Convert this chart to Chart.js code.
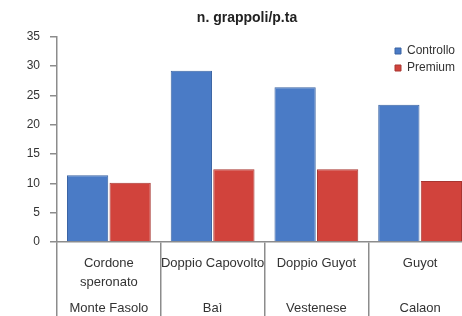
<!DOCTYPE html>
<html>
<head>
<meta charset="utf-8">
<script src="https://cdn.jsdelivr.net/npm/chart.js@4/dist/chart.umd.min.js"></script>
<style>
html, body { margin:0; padding:0; background:#fff; overflow:hidden; }
#wrapper { width:472px; height:316px; }
</style>
</head>
<body>
<div id="wrapper"><canvas id="grafico" width="472" height="316"></canvas></div>
<script>
"use strict";
// dati
const sistemi = [["Cordone", "speronato"], "Doppio Capovolto", "Doppio Guyot", "Guyot"];
const localita = ["Monte Fasolo", "Baì", "Vestenese", "Calaon"];
const controllo = [11.4, 29.2, 26.4, 23.4];
const premium = [10.1, 12.4, 12.4, 10.4];
const yMin = 0, yMax = 35, yStep = 5;

Chart.defaults.font.family = "'Liberation Sans', Arial, sans-serif";
Chart.defaults.color = "#333";

// sposta legenda e titolo come nell'originale
const posiziona = {
    id: "posiziona",
    afterLayout(chart) {
        let lg = chart.legend;
        let w = lg.width, h = lg.height;
        lg.left = 390; lg.right = lg.left + w;
        lg.top = 40; lg.bottom = lg.top + h;
        let tb = chart.titleBlock;
        tb.left += 11; tb.right += 11;
    }
};

let grigio = "#8c8c8c";
let chart = new Chart(document.getElementById("grafico"), {
    type: "bar",
    data: {
        labels: sistemi,
        datasets: [
            {
                label: "Controllo",
                data: controllo,
                backgroundColor: "#4a7bc6",
                borderColor: "#3b64a3",
                borderWidth: 1
            },
            {
                label: "Premium",
                data: premium,
                backgroundColor: "#d1433c",
                borderColor: "#a83631",
                borderWidth: 1
            }
        ]
    },
    options: {
        responsive: false,
        animation: false,
        devicePixelRatio: 1,
        layout: { padding: 0 },
        datasets: { bar: { categoryPercentage: 0.82, barPercentage: 0.97 } },
        plugins: {
            title: {
                display: true,
                text: "n. grappoli/p.ta",
                font: { size: 14, weight: "bold" },
                color: "#222",
                padding: { top: 10, bottom: 10 }
            },
            legend: {
                position: "chartArea",
                align: "start",
                labels: {
                    boxWidth: 6,
                    boxHeight: 6,
                    padding: 5,
                    font: { size: 12 },
                    color: "#333"
                }
            },
            tooltip: { enabled: false }
        },
        scales: {
            x: {
                type: "category",
                position: "bottom",
                weight: 0,
                offset: true,
                grid: { offset: true, drawOnChartArea: false, tickLength: 74, color: grigio, lineWidth: 1.5 },
                border: { color: grigio, width: 1.5 },
                ticks: { padding: -62, font: { size: 13, lineHeight: 1.45 }, color: "#333", maxRotation: 0, autoSkip: false },
                afterFit: function (s) { s.height = 60; }
            },
            x2: {
                type: "category",
                labels: localita,
                position: "bottom",
                weight: 1,
                offset: true,
                grid: { display: false, drawTicks: false },
                border: { display: false },
                ticks: { padding: -1, font: { size: 13 }, color: "#333", maxRotation: 0, autoSkip: false },
                afterFit: function (s) { s.height = 14; }
            },
            y: {
                min: yMin,
                max: yMax,
                grid: { drawOnChartArea: false, tickLength: 7, color: grigio, lineWidth: 1.5 },
                border: { color: grigio, width: 1.5 },
                ticks: { stepSize: yStep, padding: 10, font: { size: 12 }, color: "#333" },
                afterFit: function (s) { s.width = 57; }
            }
        }
    },
    plugins: [posiziona]
});
</script>
</body>
</html>
